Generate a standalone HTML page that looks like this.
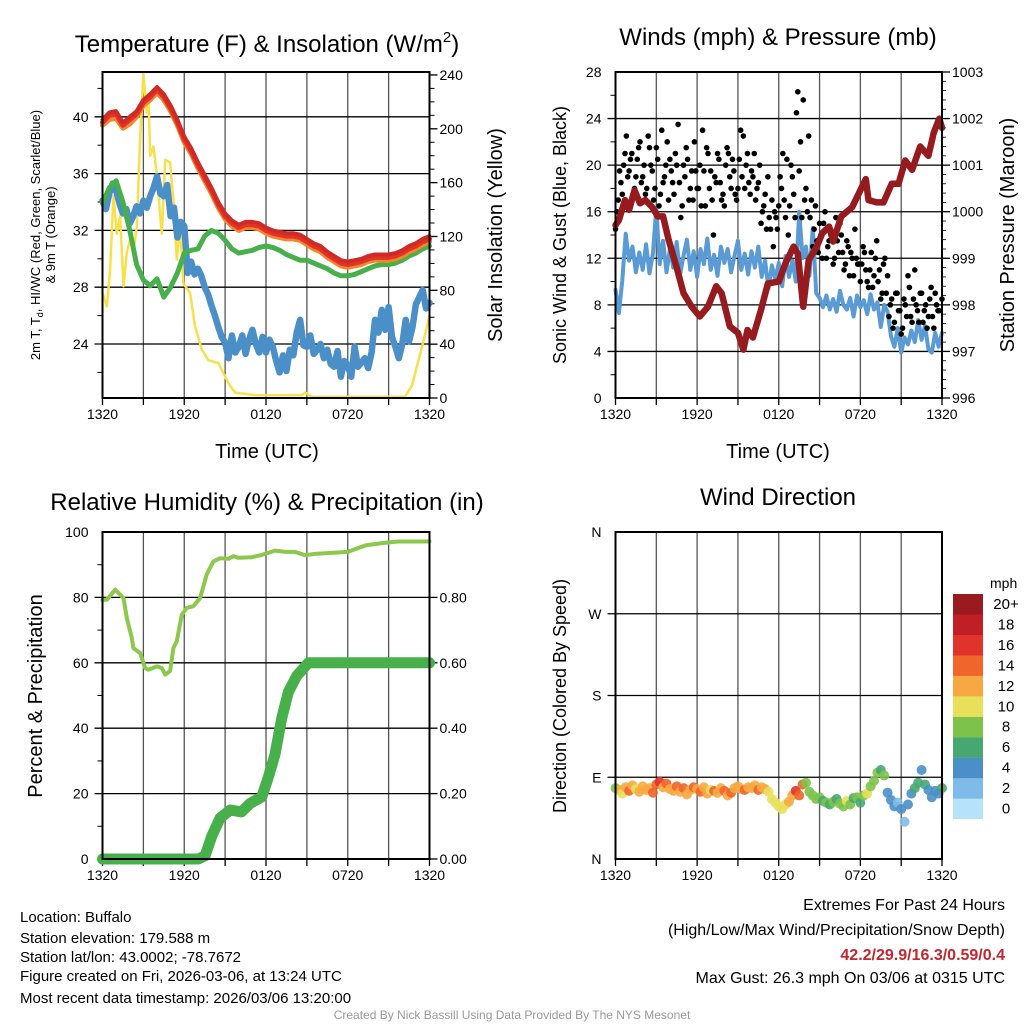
<!DOCTYPE html>
<html><head><meta charset="utf-8"><title>Buffalo Mesonet</title>
<style>
html,body{margin:0;padding:0;background:#fff;}
svg{display:block;font-family:"Liberation Sans",Arial,sans-serif;}
</style></head>
<body>
<svg id="chart" width="1024" height="1024" viewBox="0 0 1024 1024" xmlns="http://www.w3.org/2000/svg">
<rect width="1024" height="1024" fill="#fff"/>
<text x="267" y="52" font-size="24" text-anchor="middle">Temperature (F) &amp; Insolation (W/m<tspan font-size="15" dy="-10">2</tspan><tspan dy="10">)</tspan></text>
<text x="778" y="45" font-size="24" text-anchor="middle">Winds (mph) &amp; Pressure (mb)</text>
<text x="267" y="510" font-size="24" text-anchor="middle">Relative Humidity (%) &amp; Precipitation (in)</text>
<text x="778" y="505" font-size="24" text-anchor="middle">Wind Direction</text>

<text transform="translate(40,235) rotate(-90)" font-size="13" text-anchor="middle">2m T, T<tspan font-size="9" dy="3">d</tspan><tspan dy="-3">, HI/WC (Red, Green, Scarlet/Blue)</tspan></text>
<text transform="translate(55,235) rotate(-90)" font-size="13" text-anchor="middle">&amp; 9m T (Orange)</text>
<text transform="translate(502,235) rotate(-90)" font-size="20" text-anchor="middle">Solar Insolation (Yellow)</text>
<text x="267" y="458" font-size="20" text-anchor="middle">Time (UTC)</text>

<text transform="translate(566,235) rotate(-90)" font-size="18" text-anchor="middle">Sonic Wind &amp; Gust (Blue, Black)</text>
<text transform="translate(1014,235) rotate(-90)" font-size="20" text-anchor="middle">Station Pressure (Maroon)</text>
<text x="778" y="458" font-size="20" text-anchor="middle">Time (UTC)</text>

<text transform="translate(42,696) rotate(-90)" font-size="20" text-anchor="middle">Percent &amp; Precipitation</text>
<text transform="translate(566,696) rotate(-90)" font-size="18" text-anchor="middle">Direction (Colored By Speed)</text>
<text x="990" y="588" font-size="14">mph</text>

<g font-size="15">
<text x="20" y="922">Location: Buffalo</text>
<text x="20" y="943">Station elevation: 179.588 m</text>
<text x="20" y="962">Station lat/lon: 43.0002; -78.7672</text>
<text x="20" y="981">Figure created on Fri, 2026-03-06, at 13:24 UTC</text>
<text x="20" y="1003">Most recent data timestamp: 2026/03/06 13:20:00</text>
</g>
<g font-size="16" text-anchor="end">
<text x="1005" y="910">Extremes For Past 24 Hours</text>
<text x="1005" y="935">(High/Low/Max Wind/Precipitation/Snow Depth)</text>
<text x="1005" y="960" fill="#c1272d" font-weight="bold">42.2/29.9/16.3/0.59/0.4</text>
<text x="1005" y="983">Max Gust: 26.3 mph On 03/06 at 0315 UTC</text>
</g>
<text x="512" y="1019" font-size="12" fill="#999" text-anchor="middle">Created By Nick Bassill Using Data Provided By The NYS Mesonet</text>
<g id="marks"></g>
</svg>
<script>
// ---------- data ----------
const timeLabels = ["1320","1920","0120","0720","1320"];
const tempTicks = [24,28,32,36,40];
const insolTicks = [0,40,80,120,160,200,240];
const windTicks = [0,4,8,12,16,20,24,28];
const presTicks = [996,997,998,999,1000,1001,1002,1003];
const rhTicks = [0,20,40,60,80,100];
const precipTicks = ["0.00","0.20","0.40","0.60","0.80"];
const dirLabels = ["N","E","S","W","N"];
const speedLabels = ["0","2","4","6","8","10","12","14","16","18","20+"];
const speedColors = ["#b6e3f9","#7fbbe8","#4a8fc8","#47a772","#7dc34b","#e8e05a","#f8a843","#f0652a","#e0332a","#c11f26","#9b1a1f"];

const tempRed = [39.8,40.3,40.4,39.6,40.0,40.4,41.2,41.6,42.1,41.6,40.8,39.8,38.6,37.8,36.8,35.9,35.0,34.0,33.2,32.7,32.4,32.6,32.6,32.5,32.2,32.0,31.9,31.8,31.8,31.7,31.4,31.1,30.9,30.5,30.2,29.9,29.8,29.9,30.0,30.2,30.3,30.3,30.3,30.4,30.6,30.9,31.1,31.4,31.6];
const tempScarlet = [39.6,40.1,40.2,39.4,39.8,40.2,41.0,41.4,41.9,41.4,40.6,39.6,38.4,37.6,36.6,35.7,34.8,33.8,33.0,32.5,32.2,32.4,32.4,32.3,32.0,31.8,31.7,31.6,31.6,31.5,31.2,30.9,30.7,30.3,30.0,29.7,29.6,29.7,29.8,30.0,30.1,30.1,30.1,30.2,30.4,30.7,30.9,31.2,31.4];
const tempOrange = [39.4,39.8,39.9,39.2,39.5,40.0,40.8,41.2,41.7,41.2,40.4,39.4,38.2,37.4,36.4,35.5,34.6,33.6,32.8,32.3,32.0,32.2,32.2,32.1,31.8,31.6,31.5,31.4,31.4,31.3,31.0,30.7,30.5,30.1,29.8,29.5,29.4,29.5,29.6,29.8,29.9,29.9,29.9,30.0,30.2,30.5,30.7,31.0,31.2];
const tempDew = [33.9,35.0,35.5,34.0,32.0,29.6,28.5,28.1,28.6,27.3,28.0,29.0,30.4,30.6,30.7,31.6,32.0,31.8,31.3,30.7,30.4,30.5,30.6,30.8,30.9,30.8,30.6,30.3,30.1,29.9,29.9,29.7,29.5,29.3,29.0,28.8,28.8,28.9,29.1,29.3,29.5,29.6,29.6,29.7,29.9,30.2,30.4,30.7,30.9];
const tempChill = [34.1,33.5,34.6,35.3,34.8,33.9,33.2,33.5,32.5,33.0,33.7,33.2,34.1,33.6,34.4,35.0,35.8,34.6,34.4,35.2,33.0,33.6,31.5,32.6,32.3,29.0,29.8,28.9,29.3,28.8,28.0,27.5,26.7,26.0,25.2,24.5,24.1,23.0,24.6,23.4,23.8,24.6,23.3,24.3,25.0,24.0,23.4,24.5,23.4,24.3,23.8,22.8,22.0,23.2,22.1,23.6,23.2,24.8,25.7,23.9,23.8,24.6,23.3,23.6,24.0,23.0,23.6,22.6,22.4,23.5,21.7,22.8,22.5,21.7,23.8,22.4,22.7,23.0,22.3,23.4,25.7,24.8,26.4,25.0,26.6,24.5,23.8,23.0,24.0,25.7,24.2,25.2,26.8,27.3,27.8,26.5,26.9];
const insolHours = [0,0.32,0.56,0.81,1.05,1.3,1.54,1.78,2.03,2.27,2.52,2.76,3.0,3.25,3.37,3.5,3.74,3.99,4.35,4.6,4.96,5.2,5.45,5.7,5.94,6.43,6.8,7.29,7.78,8.5,9.24,9.73,11.2,14.6,14.9,15.35,22.2,22.7,23.2,23.7,24];
const insolVals = [78,68,95,150,122,135,83,108,118,108,127,192,241,212,226,180,187,165,122,177,175,147,103,127,85,78,53,36,28,26,11,4,2,2,4,1,1,9,28,48,61];

const presHours = [0,0.25,0.7,1,1.4,1.8,2.2,2.7,3.1,3.5,3.9,4.5,5,5.6,6.2,6.8,7.4,7.8,8.4,9,9.4,9.7,10.1,10.7,11.2,12,12.5,13.1,13.4,13.8,14.2,14.8,15.2,15.7,16,16.6,17.4,17.9,18.4,18.6,19.2,19.7,20.3,20.8,21.3,21.8,22.4,23,23.4,23.8,24];
const presVals = [999.71,999.82,1000.25,1000.04,1000.46,1000.18,1000.25,1000.1,999.9,999.9,999.4,998.8,998.25,997.96,997.75,997.96,998.4,998.25,997.54,997.4,997.04,997.46,997.3,997.9,998.46,998.5,998.9,999.25,999.1,997.96,998.96,999.25,999.54,999.68,999.36,999.9,1000.1,1000.4,1000.7,1000.25,1000.2,1000.2,1000.6,1000.6,1001.1,1000.9,1001.4,1001.2,1001.7,1002.0,1001.8];
const windVals = [9.3,7.3,10.1,14.1,11.8,13.0,10.8,12.5,11.0,13.2,10.7,12.4,16.3,11.5,13.5,10.8,12.8,11.2,13.4,10.6,12.2,13.6,11.0,12.6,10.4,12.8,11.5,13.7,11.0,12.3,10.5,13.0,11.6,12.8,10.8,12.2,13.5,11.0,12.4,10.6,12.6,11.2,13.0,10.4,11.8,9.4,11.4,10.2,11.6,9.6,12.2,10.4,11.8,10.0,16.0,12.0,13.0,10.5,14.6,9.0,8.6,7.8,8.8,7.6,8.5,7.4,9.2,8.0,7.6,8.6,7.0,8.8,7.8,8.4,7.2,8.9,7.6,8.2,6.1,8.0,7.4,5.3,4.4,6.0,3.9,5.2,4.6,5.8,4.8,6.7,5.0,6.2,4.2,3.9,5.6,4.4,5.6];
const gustVals = [14.5,17,18.5,20,22.5,19.5,21,18,20.5,22,19,
17.5,22.5,20,17,21.5,16.5,23,19,22,20.5,
18.5,21,23.5,15.5,20,21.5,17,19.5,22,18,
20,23,16.5,21,19.5,14,18.5,20.5,17,16.5,
21.5,19,20.5,17.5,18,23,22.5,20,18.5,19.5,
21,18,20,16,17.5,19,14.5,13,15.5,16.5,
18,17,20.5,16.5,19,15.5,26.3,22,25.6,18,
22.5,17,14.5,13.5,15,12,16,13,14.5,11.5,
15.5,12.5,14,11,13.5,10.5,12,14.5,11.5,10,
13,11,9.5,12.5,10.5,13.5,11,9,12,10.5,
8,6,9,7.5,5.5,8.5,7,9.5,6.5,11,
7.5,9,6.5,8,7,9.5,6,8,7.5,8.5];
// second set of gusts, offset 0.1 h
const gustVals2 = [16,19.5,17.5,21,19,20.5,17.5,19,21.5,18.5,
20,18,21.5,19.5,18,20.5,17.5,18.5,20,17,
19.5,17.5,20,18.5,16.5,19,20.5,18,17,19.5,
18,16.5,19.5,21.5,18,17,19,21,18.5,17.5,
20,21,18,19.5,17,20.5,19,18,21,17.5,
19,17,18.5,15,16.5,14.5,15.5,17,16,14.5,
19,21,15.5,14,20,17.5,24.5,19.5,15.5,17,
16,15.5,13,16.5,12.5,14,15,12,13.5,14,
12,13.5,15,12.5,11.5,13,12.5,10.5,12,11.5,
11.5,12.5,10,11,9.5,12,10,8.5,11.5,9,
7,8.5,6.5,9,7.5,6,8,10.5,7,8.5,
8,6.5,9,7.5,6,8.5,7,9,7.5];

const rhHours = [0,0.32,0.93,1.54,1.78,2.15,2.27,2.76,3.13,3.37,3.99,4.35,4.6,4.96,5.2,5.45,5.82,6.19,6.67,7.16,7.65,8.14,8.63,9.24,9.6,9.98,10.95,11.69,12.66,13.4,14.13,14.86,15.6,16.8,18.0,19.3,20.5,21.7,24];
const rhVals = [79.3,79.3,82.4,79.8,73.7,67.6,64.5,63,58.4,57.9,58.9,58.4,56.4,57.5,64.5,66.6,74.7,76.8,77.3,79.8,87,91,92,91.8,92.6,92.1,92.3,93,94.3,93.9,93.9,92.9,93.3,93.6,93.9,95.9,96.6,97.1,97.1];
const precipHours = [0,7.04,7.53,8.02,8.63,9.37,10.2,10.83,11.69,12.17,12.66,13.15,13.64,14.25,15.11,24];
const precipVals = [0,0,0.01,0.07,0.125,0.15,0.144,0.17,0.19,0.25,0.32,0.43,0.51,0.56,0.6,0.6];

const dirVals = [78,76,72,79,75,81,77,74,80,76,78,73,82,85,79,83,77,75,80,74,78,71,76,79,77,74,79,72,76,75,73,78,75,70,73,78,80,77,76,79,78,81,76,79,77,74,66,62,58,55,60,63,70,75,70,82,84,74,70,66,68,64,62,60,63,66,61,58,64,60,67,68,62,70,72,80,86,95,98,92,73,65,58,62,55,41,60,72,78,84,98,82,76,68,75,72,78];
const speedVals = [8,12,11,13,14,12,10,13,12,13,12,14,15,17,13,14,13,12,14,12,15,13,12,14,12,14,13,12,11,14,12,13,14,12,15,13,12,13,14,12,13,12,14,13,12,11,10,10,10,11,10,12,13,17,14,15,9,8,8,9,8,7,8,7,8,7,9,8,10,8,7,9,7,8,10,9,8,8,7,8,5,4,4,3,4,3,4,5,6,6,4,6,4,4,5,4,6];

// ---------- layout ----------
const NS = "http://www.w3.org/2000/svg";
const marks = document.getElementById("marks");
const P1 = {x0:102.5,x1:429.5,y0:72,y1:398};
const P2 = {x0:615.5,x1:942,y0:72,y1:398};
const P3 = {x0:102.5,x1:429.5,y0:532,y1:859};
const P4 = {x0:615.5,x1:942,y0:532,y1:859};
function xAt(p,t){return p.x0+(t/24)*(p.x1-p.x0);}
function yTemp(v){return 344-(v-24)*14.2;}
function yInsol(w){return 398-w*1.346;}
function yWind(m){return 398-m*(326/28);}
function yPres(b){return 398-(b-996)*(326/7);}
function yRH(v){return 859-v*3.27;}
function yPrecip(p){return 859-p*327;}
function yDir(d){return 859-d*(327/360);}
function mk(tag,attrs){const e=document.createElementNS(NS,tag);for(const k in attrs)e.setAttribute(k,attrs[k]);marks.appendChild(e);return e;}
function pathFrom(xsArr,ysArr){let d="";for(let i=0;i<xsArr.length;i++)d+=(i?"L":"M")+xsArr[i].toFixed(1)+","+ysArr[i].toFixed(1);return d;}

function drawFrame(p,name,hVals,hy,leftLabels,rightTicks,rightLabelFn,ryFn){
  for(let h=3;h<24;h+=3){
    const l=mk("line",{x1:xAt(p,h),x2:xAt(p,h),y1:p.y0,y2:p.y1,stroke:"#555","stroke-width":1.3});
    
    
  }
  for(let h=0;h<=24;h+=3){
    const tk=mk("line",{x1:xAt(p,h),x2:xAt(p,h),y1:p.y1,y2:p.y1+7,stroke:"#000","stroke-width":1.3});
    
    
  }
  for(let i=0;i<timeLabels.length;i++){
    const tx=mk("text",{x:xAt(p,i*6),y:p.y1+21,"font-size":14,"text-anchor":"middle"});
    tx.textContent=timeLabels[i];
    
    
  }
  for(let i=0;i<hVals.length;i++){
    const y=hy(hVals[i]);
    const g=mk("line",{x1:p.x0-8,x2:p.x1,y1:y,y2:y,stroke:"#000","stroke-width":1.3});
    
    
    if(leftLabels){
      const t=mk("text",{x:p.x0-14,y:y+5,"font-size":14,"text-anchor":"end"});
      t.textContent=leftLabels[i];
      
      
    }
  }
  if(rightTicks){
    for(let i=0;i<rightTicks.length;i++){
      const y=ryFn(rightTicks[i]);
      const tk=mk("line",{x1:p.x1,x2:p.x1+8,y1:y,y2:y,stroke:"#000","stroke-width":1.3});
      
      
      const t=mk("text",{x:p.x1+10,y:y+5,"font-size":14});
      t.textContent=rightLabelFn(i);
      
      
    }
  }
}
function drawBorder(p,name){
  const r=mk("rect",{x:p.x0,y:p.y0,width:p.x1-p.x0,height:p.y1-p.y0,fill:"none",stroke:"#000","stroke-width":2});
  
  
}
function series(p,hours,vals,yf,color,w,name){
  const e=mk("path",{d:pathFrom(hours.map(h=>xAt(p,h)),vals.map(yf)),fill:"none",stroke:color,"stroke-width":w,"stroke-linejoin":"round","stroke-linecap":"round"});
  
  
  return e;
}

// ---------- panel 1 ----------
drawFrame(P1,"temperature",tempTicks,yTemp,tempTicks.map(String),insolTicks,i=>String(insolTicks[i]),yInsol);
for(let v=22;v<=42;v+=4){const m=mk("line",{x1:P1.x0-5,x2:P1.x0,y1:yTemp(v),y2:yTemp(v),stroke:"#000"});}
for(let w=10;w<=240;w+=10){if(w%40){const m=mk("line",{x1:P1.x1,x2:P1.x1+5,y1:yInsol(w),y2:yInsol(w),stroke:"#000"});}}
const h05=tempRed.map((_,i)=>i*0.5);
const h025=tempChill.map((_,i)=>i*0.25);
series(P1,insolHours,insolVals,yInsol,"#f9e04b",2.5,"insolation-line");
series(P1,h025,tempChill,yTemp,"#4a8fc8",6.5,"wind-chill-line");
series(P1,h05,tempDew,yTemp,"#48b04a",5,"dewpoint-line");
series(P1,h05,tempOrange,yTemp,"#f5872a",5,"temp-9m-line");
series(P1,h05,tempScarlet,yTemp,"#e0332a",5,"heat-index-line");
series(P1,h05,tempRed,yTemp,"#d12a26",4,"temp-2m-line");
drawBorder(P1,"temperature");

// ---------- panel 2 ----------
drawFrame(P2,"wind",windTicks.slice(1,7),yWind,windTicks.slice(1,7).map(String),presTicks,i=>String(presTicks[i]),yPres);
for(const v of [0,28]){const t=mk("text",{x:P2.x0-14,y:yWind(v)+5,"font-size":14,"text-anchor":"end"});t.textContent=String(v);}
for(let v=2;v<28;v+=4){const m=mk("line",{x1:P2.x0-5,x2:P2.x0,y1:yWind(v),y2:yWind(v),stroke:"#000"});}
for(let b=996.2;b<1003;b+=0.2){const m=mk("line",{x1:P2.x1,x2:P2.x1+4,y1:yPres(b),y2:yPres(b),stroke:"#000","stroke-width":0.8});}
series(P2,h025,windVals,yWind,"#5b9bd5",4,"sonic-wind-line");
for(let i=0;i<gustVals.length;i++){
  const c=mk("circle",{cx:xAt(P2,i*0.2),cy:yWind(gustVals[i]),r:2.8,fill:"#000"});
  
  
}
for(let i=0;i<gustVals2.length;i++){
  const c=mk("circle",{cx:xAt(P2,0.1+i*0.2),cy:yWind(gustVals2[i]),r:2.8,fill:"#000"});
  
  
}
series(P2,presHours,presVals,yPres,"#951b1e",6.5,"pressure-line");
drawBorder(P2,"wind");

// ---------- panel 3 ----------
drawFrame(P3,"humidity",rhTicks.slice(1,5),yRH,rhTicks.slice(1,5).map(String),[0,0.2,0.4,0.6,0.8],i=>precipTicks[i],yPrecip);
for(const v of [0,100]){const t=mk("text",{x:P3.x0-14,y:yRH(v)+5,"font-size":14,"text-anchor":"end"});t.textContent=String(v);}
for(let v=10;v<100;v+=20){const m=mk("line",{x1:P3.x0-5,x2:P3.x0,y1:yRH(v),y2:yRH(v),stroke:"#000"});}
series(P3,precipHours,precipVals,yPrecip,"#48b04a",11,"precipitation-line");
series(P3,rhHours,rhVals,yRH,"#8cc84b",4,"humidity-line");
drawBorder(P3,"humidity");

// ---------- panel 4 ----------
drawFrame(P4,"direction",[90,180,270],yDir,["E","S","W"],null,null,null);
for(const [v,l] of [[0,"N"],[360,"N"]]){const t=mk("text",{x:P4.x0-14,y:yDir(v)+5,"font-size":14,"text-anchor":"end"});t.textContent=l;}
for(let i=0;i<dirVals.length;i++){
  const ci=Math.min(10,Math.floor(speedVals[i]/2));
  const c=mk("circle",{cx:xAt(P4,i*0.25),cy:yDir(dirVals[i]),r:5,fill:speedColors[ci],"fill-opacity":0.9});
  
  
}
drawBorder(P4,"direction");
for(let i=0;i<speedColors.length;i++){
  const y=594+(10-i)*20.45;
  const r=mk("rect",{x:953,y:y,width:30,height:20.6,fill:speedColors[i]});
  
  
  const t=mk("text",{x:1006,y:y+15,"font-size":15,"text-anchor":"middle"});
  t.textContent=speedLabels[i];
  
  
}
</script>
</body></html>
